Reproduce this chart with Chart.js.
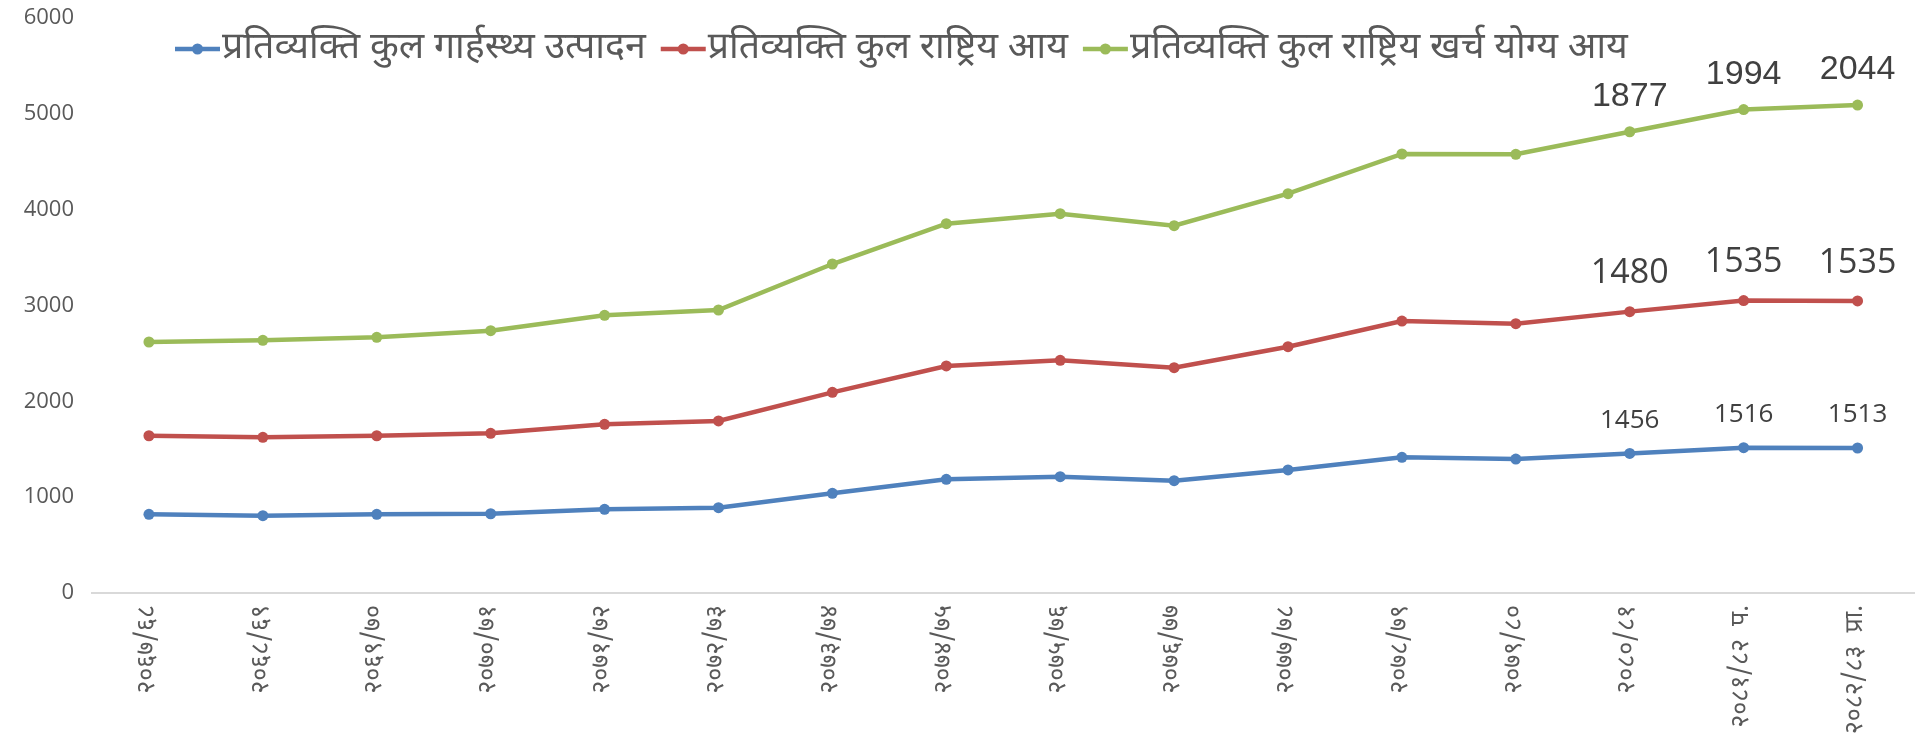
<!DOCTYPE html>
<html>
<head>
<meta charset="utf-8">
<script src="https://cdn.jsdelivr.net/npm/chart.js@4/dist/chart.umd.min.js"></script>
<style>
  html, body { margin: 0; padding: 0; background: #ffffff; }
  #wrap { width: 1920px; height: 746px; }
</style>
</head>
<body>
<div id="wrap"><canvas id="incomeChart" width="1920" height="746"></canvas></div>
<script>
// Fiscal years (Nepali calendar)
const categories = [
    '२०६७/६८', '२०६८/६९', '२०६९/७०', '२०७०/७१', '२०७१/७२', '२०७२/७३',
    '२०७३/७४', '२०७४/७५', '२०७५/७६', '२०७६/७७', '२०७७/७८', '२०७८/७९',
    '२०७९/८०', '२०८०/८१', '२०८१/८२  प.', '२०८२/८३  प्रा.'
];

// Series names
const seriesNames = [
    'प्रतिव्यक्ति कुल गार्हस्थ्य उत्पादन',
    'प्रतिव्यक्ति कुल राष्ट्रिय आय',
    'प्रतिव्यक्ति कुल राष्ट्रिय खर्च योग्य आय'
];

// Values (the chart stacks them)
const gdpPerCapita = [821, 807, 821, 827, 873, 890, 1040, 1186, 1214, 1172, 1284, 1416, 1398, 1456, 1516, 1513];
const gniPerCapita = [820, 818, 820, 839, 887, 905, 1054, 1183, 1214, 1179, 1286, 1422, 1412, 1480, 1535, 1535];
const gndiPerCapita = [978, 1012, 1027, 1071, 1138, 1158, 1339, 1485, 1530, 1482, 1597, 1743, 1768, 1877, 1994, 2044];

// Y axis
const yMin = 0;
const yMax = 6000;
const yStep = 1000;

// Points that carry a value label
const labelledPoints = [13, 14, 15];

const colors = ['#4F81BD', '#C0504D', '#9BBB59'];
const textColor = '#595959';
const devaFont = "'Noto Sans Devanagari', 'Noto Sans', 'Open Sans', sans-serif";

// value labels above the last points
const valueLabels = {
    id: 'valueLabels',
    afterDatasetsDraw(chart) {
        const ctx = chart.ctx;
        const fonts = [
            "26px 'Open Sans', sans-serif",
            "34px 'Open Sans', sans-serif",
            "34px 'Liberation Sans Narrow', 'Liberation Sans', sans-serif"
        ];
        const offsets = [33, 38, 35];
        ctx.save();
        ctx.fillStyle = '#404040';
        ctx.textAlign = 'center';
        ctx.textBaseline = 'middle';
        chart.data.datasets.forEach((ds, di) => {
            const meta = chart.getDatasetMeta(di);
            ctx.font = fonts[di];
            labelledPoints.forEach(i => {
                const pt = meta.data[i];
                ctx.fillText(String(ds.data[i]), pt.x, pt.y - offsets[di]);
            });
        });
        ctx.restore();
    }
};

// legend drawn inside the plot, line + marker like the original
const lineLegend = {
    id: 'lineLegend',
    afterDraw(chart) {
        const ctx = chart.ctx;
        let x = 175;
        const y = 49;
        ctx.save();
        ctx.font = '37.5px ' + devaFont;
        ctx.textBaseline = 'middle';
        chart.data.datasets.forEach((ds, di) => {
            ctx.strokeStyle = ds.borderColor;
            ctx.lineWidth = 4.5;
            ctx.beginPath();
            ctx.moveTo(x, y);
            ctx.lineTo(x + 45, y);
            ctx.stroke();
            ctx.fillStyle = ds.borderColor;
            ctx.beginPath();
            ctx.arc(x + 22.5, y, 5.5, 0, Math.PI * 2);
            ctx.fill();
            ctx.fillStyle = textColor;
            ctx.fillText(ds.label, x + 47, y + 2);
            x += 47 + ctx.measureText(ds.label).width + 15;
        });
        ctx.restore();
    }
};

function makeDataset(name, values, color) {
    return {
        label: name,
        data: values,
        borderColor: color,
        backgroundColor: color,
        borderWidth: 4.5,
        pointRadius: 5.5,
        pointBorderWidth: 0,
        pointHoverRadius: 5.5,
        fill: false,
        tension: 0
    };
}

const ctx = document.getElementById('incomeChart').getContext('2d');
const incomeChart = new Chart(ctx, {
    type: 'line',
    data: {
        labels: categories,
        datasets: [
            makeDataset(seriesNames[0], gdpPerCapita, colors[0]),
            makeDataset(seriesNames[1], gniPerCapita, colors[1]),
            makeDataset(seriesNames[2], gndiPerCapita, colors[2])
        ]
    },
    options: {
        responsive: false,
        animation: false,
        layout: { padding: { top: 18, right: 2, left: 0, bottom: 0 } },
        plugins: {
            legend: { display: false },
            tooltip: { enabled: false }
        },
        scales: {
            x: {
                offset: true,
                grid: { display: false, drawTicks: false, offset: true },
                border: { display: true, color: '#D9D9D9', width: 2 },
                ticks: {
                    color: textColor,
                    font: { size: 25, family: devaFont },
                    minRotation: 90,
                    maxRotation: 90,
                    autoSkip: false,
                    padding: 12
                },
                afterFit(scale) { scale.height = 153; }
            },
            y: {
                stacked: true,
                min: yMin,
                max: yMax,
                grid: { display: false, drawTicks: false },
                border: { display: false },
                ticks: {
                    stepSize: yStep,
                    color: textColor,
                    font: { size: 22, family: "'Open Sans', sans-serif" },
                    padding: 18,
                    callback: (v) => String(v)
                },
                afterFit(scale) {
                    scale.width = 92;
                    scale.paddingTop = 13;
                    scale.paddingBottom = 13;
                }
            }
        }
    },
    plugins: [valueLabels, lineLegend]
});
</script>
</body>
</html>
